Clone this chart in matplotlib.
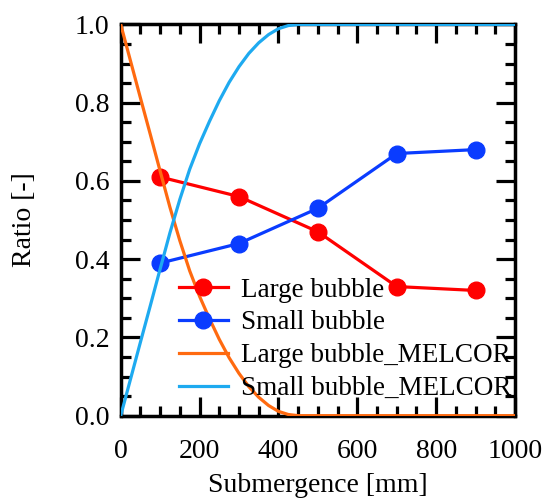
import matplotlib
matplotlib.use("Agg")
import matplotlib.pyplot as plt
from matplotlib.ticker import MultipleLocator, FormatStrFormatter

plt.rcParams['font.family'] = ['Liberation Serif', 'DejaVu Serif']

# Experimental data
exp_x = [100, 300, 500, 700, 900]
large_exp = [0.61, 0.56, 0.47, 0.33, 0.32]
small_exp = [0.39, 0.44, 0.53, 0.67, 0.68]

# MELCOR curves
mel_x = [0, 25, 50, 75, 100, 125, 150, 175, 200, 225, 250, 275, 300, 325,
         350, 375, 400, 425, 450, 1000]
large_mel = [1.0, 0.906, 0.812, 0.719, 0.625, 0.532, 0.447, 0.370, 0.305,
             0.248, 0.195, 0.148, 0.108, 0.074, 0.047, 0.026, 0.011, 0.003,
             0.0, 0.0]
small_mel = [0.0, 0.094, 0.188, 0.281, 0.375, 0.468, 0.553, 0.630, 0.695,
             0.752, 0.805, 0.852, 0.892, 0.926, 0.953, 0.974, 0.989, 0.997,
             1.0, 1.0]

labels = ["Large bubble", "Small bubble", "Large bubble_MELCOR",
          "Small bubble_MELCOR"]

FS = 20

fig = plt.figure(figsize=(5.45, 4.98), dpi=100)
ax = fig.add_axes([0.2215, 0.1653, 0.7235, 0.7857])

ax.plot(exp_x, large_exp, color='#FF0000', lw=2.3, marker='o', ms=12,
        label=labels[0], zorder=3)
ax.plot(exp_x, small_exp, color='#0A3CFF', lw=2.3, marker='o', ms=12,
        label=labels[1], zorder=3)
ax.plot(mel_x, large_mel, color='#FF6A10', lw=2.3, label=labels[2], zorder=4)
ax.plot(mel_x, small_mel, color='#1EAAF0', lw=2.3, label=labels[3], zorder=4)

ax.set_xlim(0, 1000)
ax.set_ylim(0, 1.0)
ax.xaxis.set_major_locator(MultipleLocator(200))
ax.xaxis.set_minor_locator(MultipleLocator(50))
ax.yaxis.set_major_locator(MultipleLocator(0.2))
ax.yaxis.set_minor_locator(MultipleLocator(0.05))
ax.yaxis.set_major_formatter(FormatStrFormatter('%.1f'))

ax.tick_params(which='both', direction='in', top=True, right=True,
               width=2.3, labelsize=FS, color='black')
ax.tick_params(which='major', length=14)
ax.tick_params(which='minor', length=7.5)
ax.tick_params(axis='x', which='major', pad=17)
ax.tick_params(axis='y', which='major', pad=8)
for s in ax.spines.values():
    s.set_linewidth(2.5)

ax.set_xlabel("Submergence [mm]", fontsize=FS)
ax.set_ylabel("Ratio [-]", fontsize=FS)
ax.xaxis.set_label_coords(0.5, -0.146)
ax.yaxis.set_label_coords(-0.212, 0.5)

leg = ax.legend(loc='lower left', bbox_to_anchor=(0.148, 0.037), frameon=False,
                fontsize=19.5, handlelength=1.8, handletextpad=0.5,
                labelspacing=0.29, borderaxespad=0, borderpad=0)

fig.savefig("out.png", dpi=100)
